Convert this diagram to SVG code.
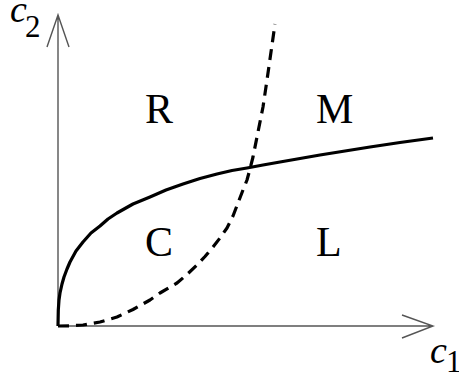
<svg xmlns="http://www.w3.org/2000/svg" width="459" height="380" viewBox="0 0 459 380">
<style>
.axis{fill:none;stroke:#555;stroke-width:1.4}
.curve{fill:none;stroke:#000;stroke-width:3.2;stroke-linejoin:round;stroke-linecap:butt}
.dash{stroke-dasharray:11 7}
.lbl{font-family:"Liberation Serif",serif;font-size:42px;fill:#000}
.var{font-family:"Liberation Serif",serif;font-style:italic;font-size:38px;fill:#000}
.sub{font-family:"Liberation Serif",serif;font-size:31px;fill:#000}
</style>
<rect width="459" height="380" fill="#fff"/>
<g id="axes">
<path class="axis" d="M58,326 V15 M47,47 L58,15 L69,47"/>
<path class="axis" d="M58,326 H433 M402,315 L433,326 L402,338"/>
</g>
<g id="connectors">
<polyline class="curve" points="58,326 58.3,310 59,300 60,293 62,284 64,277 67,269 70,262 76,251 83,242 91,233 100,226 108,219 117,213 133,204 150,197 166,190 183,184 200,178.5 217,174 232,170.5 247,168 263,165 280,162 300,158.5 320,155 345,151 370,147 400,142.5 433,138"/>
<polyline class="curve dash" points="58,326 70,325.8 83,325 100,322 117,317 133,309.5 150,300 160,293 177,283 187,274.5 197,265 205,256.5 213,247 220,238 227,228 233,216 238,203 243,190 247,180 250,169 253,157 258,132 263,107 267,80 271,52 275,24"/>
</g>
<g id="label-c2"><text x="10" y="22" class="var">c</text><text x="25" y="37" class="sub">2</text></g>
<g id="label-c1"><text x="430" y="363" class="var">c</text><text x="446" y="372" class="sub">1</text></g>
<g id="region-R"><text x="145" y="123" class="lbl">R</text></g>
<g id="region-M"><text x="316" y="123" class="lbl">M</text></g>
<g id="region-C"><text x="145" y="256" class="lbl">C</text></g>
<g id="region-L"><text x="316" y="256" class="lbl">L</text></g>
</svg>
